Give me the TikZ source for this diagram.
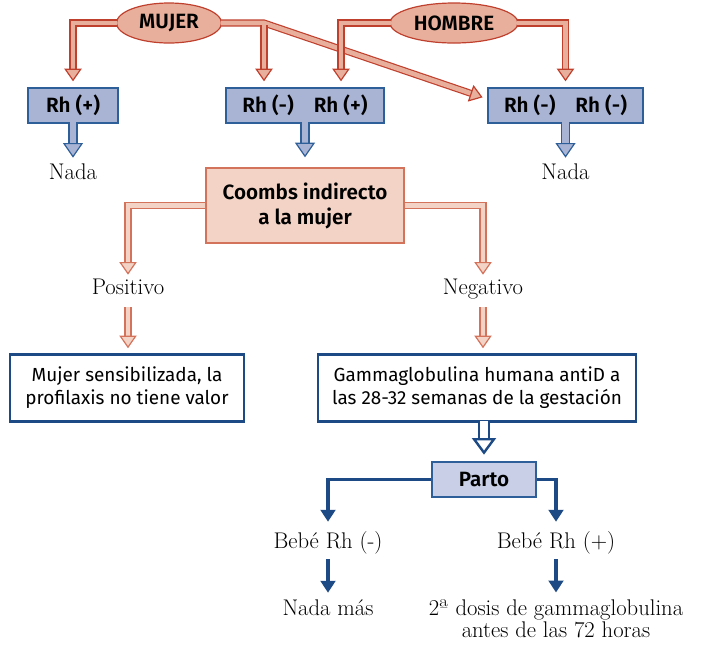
\documentclass[tikz,border=0pt]{standalone}
\usepackage{fontspec}
\setsansfont{Fira Sans}[BoldFont={Fira Sans SemiBold}]
\usetikzlibrary{arrows.meta,shapes.geometric,positioning,calc}
\definecolor{rhSalmon}{HTML}{E8B09C}
\definecolor{rhRed}{HTML}{C0402E}
\definecolor{rhPeach}{HTML}{F2D3C5}
\definecolor{rhCoral}{HTML}{D4735C}
\definecolor{rhBlue}{HTML}{A9B4D5}
\definecolor{rhLine}{HTML}{2F5F98}
\definecolor{rhPale}{HTML}{C8CFE6}
\definecolor{rhNavy}{HTML}{1D4A85}
\newcommand\boldlab{\sffamily\bfseries\fontsize{15.5}{18.75}\selectfont}
\newcommand\plainlab{\sffamily\fontsize{14.2}{17.25}\selectfont}
\newcommand\seriflab{\rmfamily\fontsize{17}{16.5}\selectfont}
\tikzset{
  salTip/.tip={Triangle[length=9.5pt,width=13pt,fill=rhSalmon,line width=0.9pt]},
  peachTip/.tip={Triangle[length=9.5pt,width=13pt,fill=rhPeach,line width=0.9pt]},
  blueTip/.tip={Triangle[length=11pt,width=15pt,fill=rhBlue,line width=0.9pt]},
  hollowTip/.tip={Triangle[length=12.5pt,width=18pt,fill=white,line width=1.8pt]},
  parent/.style={ellipse, draw=rhRed, fill=rhSalmon, line width=0.9pt,
    minimum height=30pt, inner sep=0pt, font=\boldlab},
  rhbox/.style={rectangle, draw=rhLine, fill=rhBlue, line width=1pt,
    minimum height=26.25pt, inner sep=0pt, font=\boldlab},
  testbox/.style={rectangle, draw=rhCoral, fill=rhPeach, line width=1pt,
    align=center, inner sep=0pt, font=\boldlab},
  notebox/.style={rectangle, draw=rhNavy, fill=white, line width=1.9pt,
    minimum height=50.25pt, align=center, inner sep=0pt, font=\plainlab},
  partobox/.style={rectangle, draw=rhLine, fill=rhPale, line width=1pt,
    minimum height=26.25pt, inner sep=0pt, font=\boldlab},
  lab/.style={font=\seriflab, text height=12pt, text depth=3.5pt, inner sep=1pt},
  salarrow/.style={draw=rhRed, double=rhSalmon, line width=0.9pt,
    double distance=3.5pt, -salTip},
  peacharrow/.style={draw=rhCoral, double=rhPeach, line width=0.9pt,
    double distance=3.5pt, -peachTip},
  bluearrow/.style={draw=rhLine, double=rhBlue, line width=0.9pt,
    double distance=5.2pt, -blueTip},
  hollowarrow/.style={draw=rhNavy, double=white, line width=1.8pt,
    double distance=5.8pt, -hollowTip},
  navyarrow/.style={draw=rhNavy, line width=2.4pt, -{Triangle[length=9pt,width=11pt]}}
}
\begin{document}
\begin{tikzpicture}[x=0.75pt,y=-0.75pt]
  \useasboundingbox (0,0) rectangle (704,644);
  % parents
  \node[parent, minimum width=78.75pt] (mujer) at (169,23) {MUJER};
  \node[parent, minimum width=96pt] (hombre) at (454,23) {HOMBRE};
  % Rh combinations
  \node[rhbox, minimum width=67.5pt] (rhA) at (73,105.5) {Rh (+)};
  \node[rhbox, minimum width=118.5pt] (rhB) at (305,105.5) {Rh (-)\hspace{15pt}Rh (+)};
  \node[rhbox, minimum width=116.25pt] (rhC) at (565.5,105.5) {Rh (-)\hspace{15pt}Rh (-)};
  \node[lab] (nadaA) at (73,174.3) {Nada};
  \node[lab] (nadaC) at (565.5,174.3) {Nada};
  % Coombs test and its results
  \node[testbox, minimum width=148.5pt, minimum height=56.25pt] (coombs) at (305,205.5)
    {Coombs indirecto\\a la mujer};
  \node[lab] (pos) at (128,289.3) {Positivo};
  \node[lab] (neg) at (483,289.3) {Negativo};
  \node[notebox, minimum width=175.5pt] (sens) at (127,388)
    {Mujer sensibilizada, la\\profilaxis no tiene valor};
  \node[notebox, minimum width=238.5pt] (gamma) at (477,388)
    {Gammaglobulina humana antiD a\\las 28-32 semanas de la gestación};
  % delivery
  \node[partobox, minimum width=78pt] (parto) at (484,479.5) {Parto};
  \node[lab] (bebeN) at (328,543.3) {Bebé Rh (-)};
  \node[lab] (bebeP) at (556,543.3) {Bebé Rh (+)};
  \node[lab] (nadamas) at (328,610.3) {Nada más};
  \node[font=\seriflab, align=center, inner sep=1pt] (dosis) at (556,619.2)
    {2ª dosis de gammaglobulina\\antes de las 72 horas};
  % parent arrows
  \coordinate (mujJ) at ([xshift=-30.75pt]rhB.north |- mujer.east);
  \coordinate (diagEnd) at ([yshift=4.9pt]rhC.west);
  \draw[salarrow, shorten >=4.5pt] ([xshift=1pt]mujer.west) -| (rhA.north);
  \draw[salarrow, shorten >=3.75pt] ([xshift=-1pt]mujer.east) -- (mujJ) -- (diagEnd);
  \draw[salarrow, shorten >=4.5pt] ([yshift=-1.75pt]mujJ) -- (mujJ |- rhB.north);
  \draw[salarrow, shorten >=4.5pt] ([xshift=1pt]hombre.west) -| ([xshift=27pt]rhB.north);
  \draw[salarrow, shorten >=4.5pt] ([xshift=-1pt]hombre.east) -| (rhC.north);
  % Rh boxes down
  \draw[bluearrow, shorten >=3.5pt] ([yshift=1pt]rhA.south) -- (nadaA.north);
  \draw[bluearrow, shorten >=7.5pt] ([yshift=1pt]rhB.south) -- (coombs.north);
  \draw[bluearrow, shorten >=3.5pt] ([yshift=1pt]rhC.south) -- (nadaC.north);
  % Coombs branches
  \draw[peacharrow, shorten >=2pt] (coombs.west) -| (pos.north);
  \draw[peacharrow, shorten >=2pt] (coombs.east) -| (neg.north);
  \draw[peacharrow, shorten <=4.5pt, shorten >=3.75pt] (pos.south) -- (pos.south |- sens.north);
  \draw[peacharrow, shorten <=4.5pt, shorten >=3.75pt] (neg.south) -- (neg.south |- gamma.north);
  % towards delivery
  \draw[hollowarrow, shorten >=5pt] ([yshift=1.5pt]gamma.south -| parto.north) -- (parto.north);
  \draw[navyarrow, shorten >=7.2pt] (parto.west) -| (bebeN.north);
  \draw[navyarrow, shorten >=7.2pt] (parto.east) -| (bebeP.north);
  \draw[navyarrow, shorten <=3pt, shorten >=4.2pt] (bebeN.south) -- (nadamas.north);
  \draw[navyarrow, shorten <=3pt, shorten >=4.5pt] (bebeP.south) -- (bebeP.south |- dosis.north);
\end{tikzpicture}
\end{document}
